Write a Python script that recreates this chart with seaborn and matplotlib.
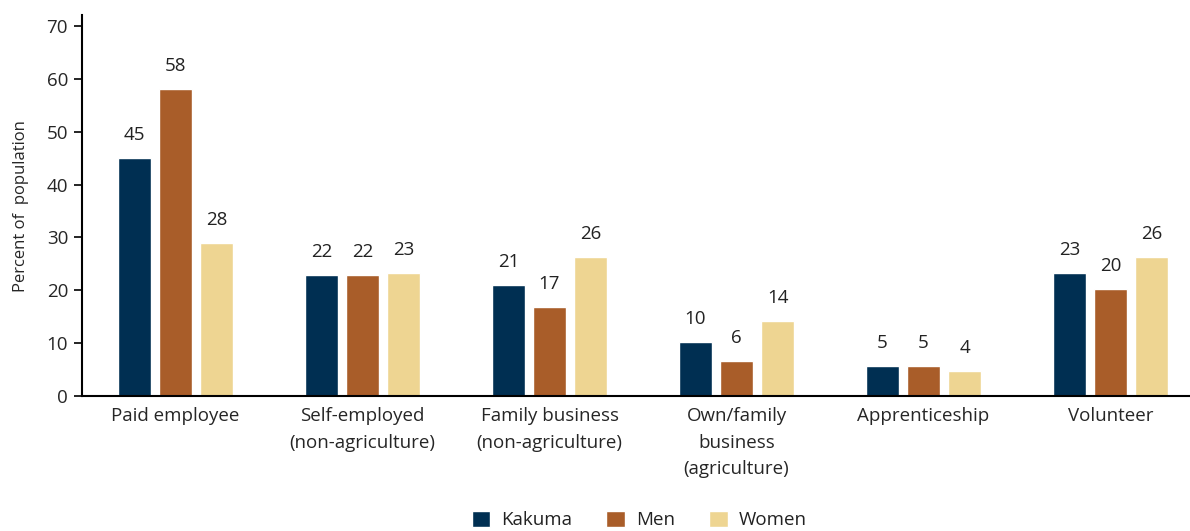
import pandas as pd
import matplotlib.pyplot as plt
import seaborn as sns

categories = ["Paid employee", "Self-employed\n(non-agriculture)", "Family business\n(non-agriculture)",
              "Own/family\nbusiness\n(agriculture)", "Apprenticeship", "Volunteer"]
groups = ["Kakuma", "Men", "Women"]

# bar heights, printed labels as shown
kakuma = [45.0, 22.9, 21.0, 10.2, 5.7, 23.3]
men = [58.1, 22.9, 16.8, 6.6, 5.7, 20.2]
women = [28.9, 23.3, 26.3, 14.2, 4.7, 26.3]
kakuma_lbl = [45, 22, 21, 10, 5, 23]
men_lbl = [58, 22, 17, 6, 5, 20]
women_lbl = [28, 23, 26, 14, 4, 26]

colors = {"Kakuma": "#002f52", "Men": "#a95d29", "Women": "#eed592"}

rows = []
for g, vals in zip(groups, [kakuma, men, women]):
    for c, v in zip(categories, vals):
        rows.append({"category": c, "group": g, "value": v})
df = pd.DataFrame(rows)
labels = {"Kakuma": kakuma_lbl, "Men": men_lbl, "Women": women_lbl}

sns.set_style("ticks")
plt.rcParams["font.family"] = ["Open Sans", "DejaVu Sans"]
plt.rcParams["text.color"] = "#222222"

fig = plt.figure(figsize=(11.9, 5.31), dpi=100)
ax = fig.add_axes([0.0689, 0.2542, 0.9311, 0.7168])

sns.barplot(data=df, x="category", y="value", hue="group", palette=colors,
            width=0.66, gap=0.2, ax=ax, saturation=1, legend=True)

for cont, g in zip(ax.containers, groups):
    for bar, lbl in zip(cont, labels[g]):
        ax.annotate(str(lbl), (bar.get_x() + bar.get_width() / 2, bar.get_height()),
                    xytext=(0, 10), textcoords="offset points", ha="center", va="bottom",
                    fontsize=13.5, color="#222222")

ax.set_xlim(-0.5, 5.425)
ax.set_ylim(0, 72)
ax.set_yticks(range(0, 71, 10))
ax.set_xlabel("")
ax.set_ylabel("Percent of  population", fontsize=12, labelpad=13)
ax.tick_params(axis="y", labelsize=13.5, length=6, width=1.2, color="black", pad=4)
ax.tick_params(axis="x", labelsize=13.5, length=0, pad=8)
for lbl in ax.get_xticklabels():
    lbl.set_linespacing(1.62)
sns.despine(ax=ax)
ax.spines["left"].set_linewidth(1.5)
ax.spines["bottom"].set_linewidth(1.5)
ax.spines["left"].set_color("black")
ax.spines["bottom"].set_color("black")

ax.legend(loc="lower center", bbox_to_anchor=(0.503, -0.395), ncol=3, frameon=False,
          fontsize=13.5, handlelength=1.0, handleheight=1.0, columnspacing=1.8, handletextpad=0.6)

fig.savefig("out.png", dpi=100)
